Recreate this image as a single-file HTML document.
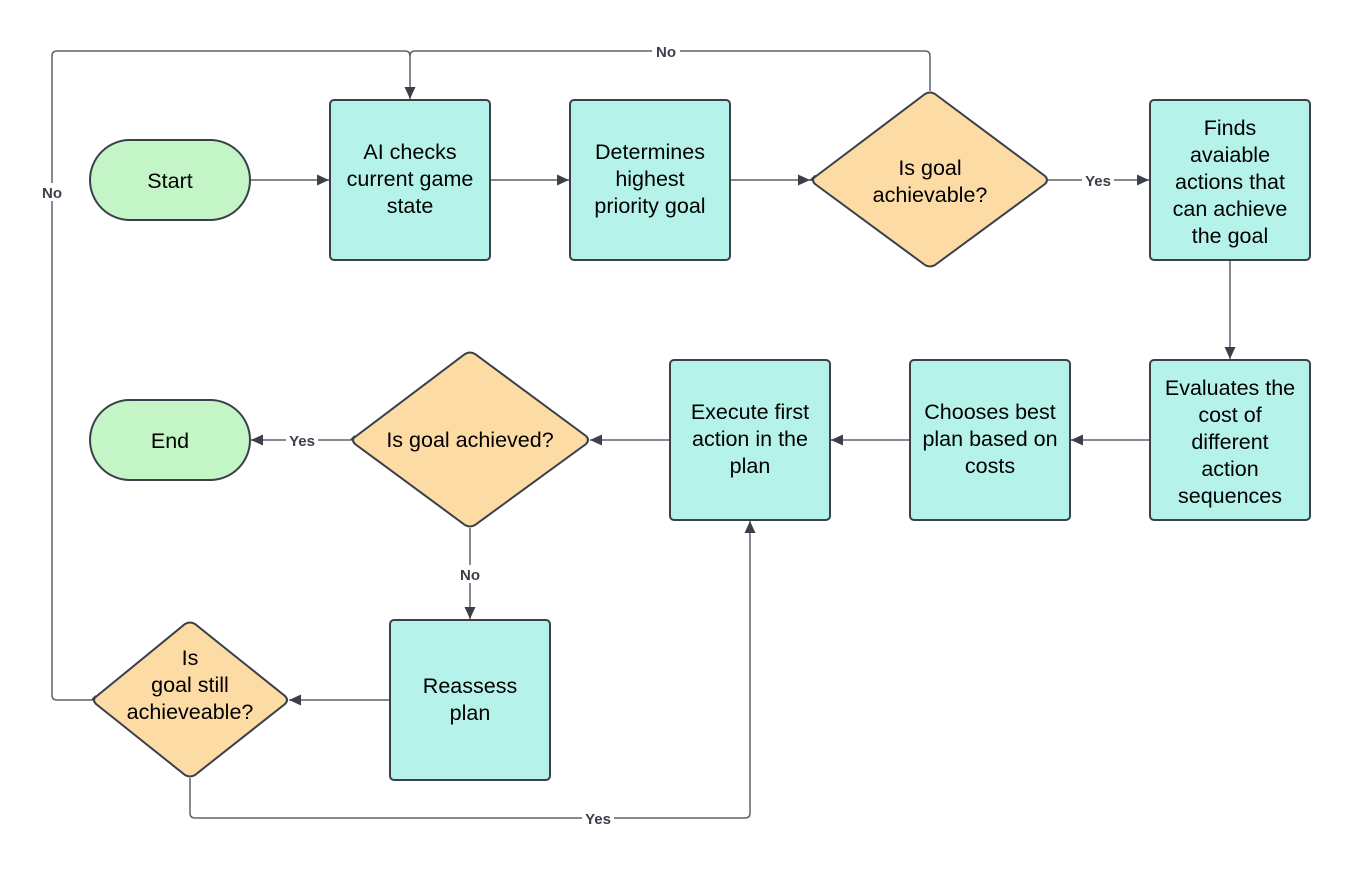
<!DOCTYPE html>
<html><head><meta charset="utf-8"><style>
html,body{margin:0;padding:0;background:#fff;}
svg{display:block;font-family:"Liberation Sans",sans-serif;}
.n{fill:#000;font-size:21.5px;text-anchor:middle;}
.l{fill:#3a3f4a;font-size:15px;font-weight:bold;text-anchor:middle;}
.c{fill:none;stroke:#5f646c;stroke-width:1.5;}
.b{stroke:#3a3f4a;stroke-width:2;}
</style></head><body>
<svg width="1350" height="869" viewBox="0 0 1350 869">
<defs><marker id="a" viewBox="0 0 12 12" refX="12" refY="6" markerWidth="13" markerHeight="12" markerUnits="userSpaceOnUse" orient="auto"><path d="M0,0.5L12,6L0,11.5z" fill="#3a3f4a"/></marker></defs>
<g class="c">
<path d="M250,180H329" marker-end="url(#a)"/>
<path d="M490,180H569" marker-end="url(#a)"/>
<path d="M730,180H810" marker-end="url(#a)"/>
<path d="M1048,180H1149" marker-end="url(#a)"/>
<path d="M1230,260V359" marker-end="url(#a)"/>
<path d="M1150,440H1071" marker-end="url(#a)"/>
<path d="M910,440H831" marker-end="url(#a)"/>
<path d="M670,440H590" marker-end="url(#a)"/>
<path d="M351,440H251" marker-end="url(#a)"/>
<path d="M470,528V619" marker-end="url(#a)"/>
<path d="M390,700H289" marker-end="url(#a)"/>
<path d="M92,700H57Q52,700 52,695V56Q52,51 57,51H405Q410,51 410,56V99" marker-end="url(#a)"/>
<path d="M930,91V56Q930,51 925,51H415Q410,51 410,56"/>
<path d="M190,778V813Q190,818 195,818H745Q750,818 750,813V521" marker-end="url(#a)"/>
</g>
<g class="b">
<rect x="90" y="140" width="160" height="80" rx="40" fill="#c3f5c6"/>
<rect x="90" y="400" width="160" height="80" rx="40" fill="#c3f5c6"/>
<rect x="330" y="100" width="160" height="160" rx="4" fill="#b5f3ea"/>
<rect x="570" y="100" width="160" height="160" rx="4" fill="#b5f3ea"/>
<rect x="1150" y="100" width="160" height="160" rx="4" fill="#b5f3ea"/>
<rect x="1150" y="360" width="160" height="160" rx="4" fill="#b5f3ea"/>
<rect x="910" y="360" width="160" height="160" rx="4" fill="#b5f3ea"/>
<rect x="670" y="360" width="160" height="160" rx="4" fill="#b5f3ea"/>
<rect x="390" y="620" width="160" height="160" rx="4" fill="#b5f3ea"/>
<path d="M811,180L925,94Q930,91 935,94L1045,176Q1049,180 1045,184L935,265Q930,268 925,265L815,184Q811,180 815,176Z" fill="#fddba5" stroke-linejoin="round"/>
<path d="M351,440L465,354Q470,351 475,354L586,436Q590,440 586,444L475,525Q470,528 465,525L355,444Q351,440 355,436Z" fill="#fddba5"/>
<path d="M92,700L185,624Q190,621 195,624L285,696Q289,700 285,704L195,775Q190,778 185,775L96,704Q92,700 96,696Z" fill="#fddba5"/>
</g>
<g class="n">
<text x="170" y="188">Start</text>
<text x="170" y="448">End</text>
<text x="410" y="159">AI checks</text><text x="410" y="186">current game</text><text x="410" y="213">state</text>
<text x="650" y="159">Determines</text><text x="650" y="186">highest</text><text x="650" y="213">priority goal</text>
<text x="930" y="175">Is goal</text><text x="930" y="202">achievable?</text>
<text x="1230" y="135">Finds</text><text x="1230" y="162">avaiable</text><text x="1230" y="189">actions that</text><text x="1230" y="216">can achieve</text><text x="1230" y="243">the goal</text>
<text x="1230" y="395">Evaluates the</text><text x="1230" y="422">cost of</text><text x="1230" y="449">different</text><text x="1230" y="476">action</text><text x="1230" y="503">sequences</text>
<text x="990" y="419">Chooses best</text><text x="990" y="446">plan based on</text><text x="990" y="473">costs</text>
<text x="750" y="419">Execute first</text><text x="750" y="446">action in the</text><text x="750" y="473">plan</text>
<text x="470" y="447">Is goal achieved?</text>
<text x="470" y="693">Reassess</text><text x="470" y="720">plan</text>
<text x="190" y="665">Is</text><text x="190" y="692">goal still</text><text x="190" y="719">achieveable?</text>
</g>
<g>
<rect x="652" y="42" width="28" height="18" fill="#fff"/>
<rect x="38" y="183" width="28" height="18" fill="#fff"/>
<rect x="1082" y="171" width="32" height="18" fill="#fff"/>
<rect x="286" y="431" width="32" height="18" fill="#fff"/>
<rect x="456" y="565" width="28" height="18" fill="#fff"/>
<rect x="582" y="809" width="32" height="18" fill="#fff"/>
</g>
<g class="l">
<text x="666" y="57">No</text>
<text x="52" y="198">No</text>
<text x="1098" y="186">Yes</text>
<text x="302" y="446">Yes</text>
<text x="470" y="580">No</text>
<text x="598" y="824">Yes</text>
</g>
</svg>
</body></html>
